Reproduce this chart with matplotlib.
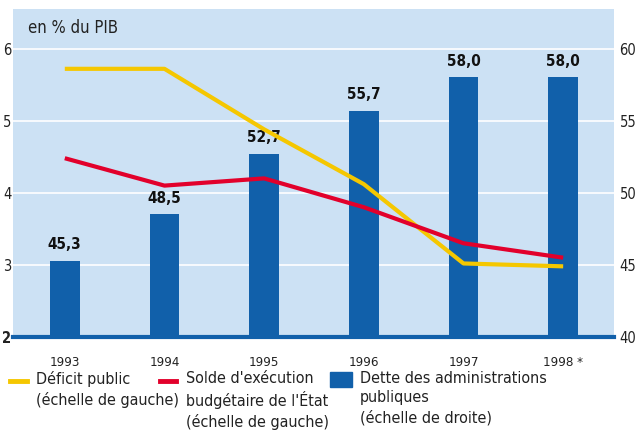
import matplotlib
matplotlib.use("Agg")
import matplotlib.pyplot as plt
from matplotlib.lines import Line2D
from matplotlib.patches import Rectangle

plt.rcParams['font.family'] = ['DejaVu Sans']
plt.rcParams['font.stretch'] = 'condensed'

annees = ["1993", "1994", "1995", "1996", "1997", "1998 *"]
deficit_public = [5.72, 5.72, 4.88, 4.12, 3.02, 2.98]
solde_etat = [4.48, 4.1, 4.2, 3.8, 3.3, 3.1]
dette = [45.3, 48.5, 52.7, 55.7, 58.0, 58.0]
dette_labels = ["45,3", "48,5", "52,7", "55,7", "58,0", "58,0"]

bleu = "#1160aa"
jaune = "#f5c700"
rouge = "#e2002b"
fond = "#cce1f4"

fig = plt.figure(figsize=(6.36, 4.30), dpi=100)
ax2 = fig.add_axes([0.0204, 0.2163, 0.945, 0.7628])
ax = ax2.twinx()

# dette (échelle de droite) en barres, dessinée dessous
x = list(range(len(annees)))
ax2.set_facecolor(fond)
ax2.bar(x, dette, width=0.3, color=bleu, zorder=3)
for xi, v, lab in zip(x, dette, dette_labels):
    ax2.text(xi, v + 0.6, lab, ha="center", va="bottom", fontsize=11,
             fontweight="bold", color="#111111", zorder=4)
ax2.set_ylim(40, 60 + 0.55 * 5)
ax2.set_xlim(-0.52, 5.51)
ax2.yaxis.grid(True, color="white", lw=1.2, zorder=1)
ax2.axhline(40, color=bleu, lw=3, zorder=5, clip_on=False)

# lignes (échelle de gauche) au-dessus
ax.set_zorder(ax2.get_zorder() + 1)
ax.patch.set_visible(False)
ax.plot(x, deficit_public, color=jaune, lw=3, solid_capstyle="butt")
ax.plot(x, solde_etat, color=rouge, lw=3, solid_capstyle="butt")
ax.set_ylim(2, 6.55)
ax.set_yticks([2, 3, 4, 5, 6])

# axes : étiquettes de gauche sur ax, de droite sur ax2
ax.yaxis.tick_left()
ax2.yaxis.tick_right()
ax2.set_yticks([40, 45, 50, 55, 60])
for a in (ax, ax2):
    for s in a.spines.values():
        s.set_visible(False)
    a.tick_params(length=0)
ax.tick_params(axis="y", labelsize=10.5, pad=1, colors="#222222")
ax2.tick_params(axis="y", labelsize=10.5, pad=4, colors="#222222")
ax2.set_xticks(x)
ax2.set_xticklabels(annees)
ax2.tick_params(axis="x", labelsize=9.5, pad=14, colors="#222222")
for t in ax.get_yticklabels():
    if t.get_text() == "2":
        t.set_fontweight("bold")

ax.text(0.025, 0.97, "en % du PIB", transform=ax.transAxes, fontsize=12,
        ha="left", va="top", color="#222222")

# légende
W, H = 636, 430
def fx(px):
    return px / W
def fy(py):
    return 1 - py / H

fig.add_artist(Line2D([fx(10), fx(27)], [fy(381), fy(381)], color=jaune, lw=3.5))
fig.add_artist(Line2D([fx(160), fx(176)], [fy(381), fy(381)], color=rouge, lw=3.5))
fig.add_artist(Rectangle((fx(330), fy(387)), fx(352) - fx(330), fy(372) - fy(387),
                         color=bleu, transform=fig.transFigure))
leg_kw = dict(fontsize=11.5, va="top", ha="left", color="#222222", linespacing=1.35)
fig.text(fx(36), fy(371), "Déficit public\n(échelle de gauche)", **leg_kw)
fig.text(fx(186), fy(371), "Solde d'exécution\nbudgétaire de l'État\n(échelle de gauche)", **leg_kw)
fig.text(fx(360), fy(371), "Dette des administrations\npubliques\n(échelle de droite)", **leg_kw)

fig.savefig("out.png", dpi=100)
